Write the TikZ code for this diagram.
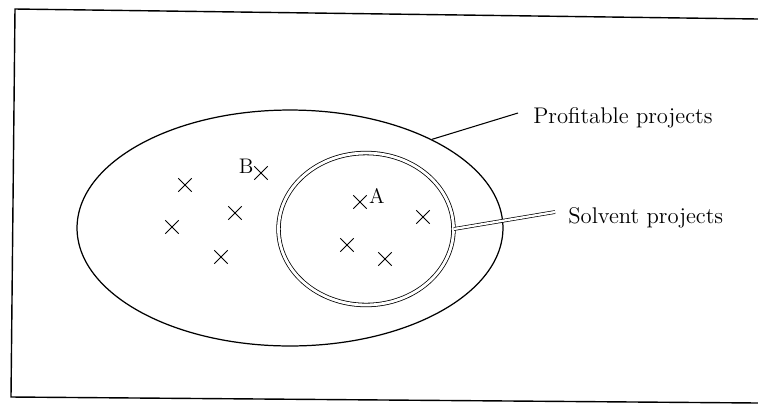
\documentclass[tikz,border=0pt]{standalone}
\usetikzlibrary{shapes.geometric, shapes.misc, positioning}
\tikzset{
  setbox/.style={ellipse, draw=black, line width=0.7pt, inner sep=0pt},
  dblbox/.style={ellipse, draw=black, double, double distance=1.6pt,
                 line width=0.45pt, inner sep=0pt},
  xmark/.style={cross out, draw=black, line width=0.55pt, minimum size=0.25cm,
                inner sep=0pt},
  lbl/.style={font=\fontsize{12.9}{15}\selectfont, inner sep=0pt},
  ptlbl/.style={font=\fontsize{12}{14}\selectfont, inner sep=0pt},
  link/.style={draw=black, line width=0.6pt},
  dbllink/.style={draw=black, double, double distance=1.3pt, line width=0.4pt},
}
\begin{document}
\begin{tikzpicture}[x=0.02cm, y=-0.02cm]
  \useasboundingbox (0,0) rectangle (758,407);
  % frame
  \draw[line width=0.8pt] (758,19) -- (15,9) -- (11,397) -- (758,403);

  % the two sets
  \node[setbox, minimum width=8.52cm, minimum height=4.72cm] (profit) at (290,228) {};
  \node[dblbox, minimum width=3.5cm, minimum height=3.04cm] (solvent) at (366,229) {};

  % projects outside the inner set
  \node[xmark] (p1) at (185,185) {};
  \node[xmark] (pb) at (261,173) {};
  \node[xmark] (p2) at (235,213) {};
  \node[xmark] (p3) at (172,227) {};
  \node[xmark] (p4) at (221,257) {};
  \node[ptlbl, left=0.01cm of pb, yshift=0.13cm] (lb) {B};

  % projects inside the inner set
  \node[xmark] (pa) at (360,202) {};
  \node[xmark] (p5) at (423,217) {};
  \node[xmark] (p6) at (347,245) {};
  \node[xmark] (p7) at (385,259) {};
  \node[ptlbl, right=0.04cm of pa, yshift=0.12cm] (la) {A};

  % labels
  \node[lbl, anchor=base west] (proflbl) at (533,123) {Profitable\ projects};
  \node[lbl, anchor=base west] (solvlbl) at (568,223) {Solvent projects};
  \coordinate (profend) at (518,113);
  \coordinate (solvend) at (555,212);

  \draw[link] (profit.32) -- (profend);
  \draw[dbllink] (solvent.east) -- (solvend);
\end{tikzpicture}
\end{document}
